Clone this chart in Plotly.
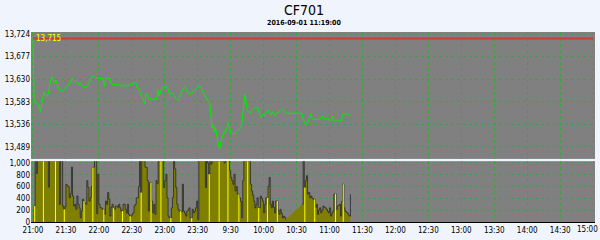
import plotly.graph_objects as go
from plotly.subplots import make_subplots

symbol = "CF701"
timestamp = "2016-09-01 11:19:00"
ref_price = 13715

tick_minutes = [0, 30, 60, 90, 120, 150, 180, 210, 240, 270, 300, 330, 360, 390, 420, 450, 480, 510]
tick_labels = ["21:00", "21:30", "22:00", "22:30", "23:00", "23:30", "9:30", "10:00", "10:30",
               "11:00", "11:30", "12:00", "12:30", "13:00", "13:30", "14:00", "14:30", "15:00"]

price_ticks = [13489, 13536, 13583, 13630, 13677, 13724]
volume_ticks = [0, 200, 400, 600, 800, 1000]

price = [
    13715, 13582, 13583, 13580, 13579, 13577, 13570, 13561, 13580, 13590,
    13603, 13598, 13597, 13594, 13600, 13615, 13625, 13635, 13630, 13624,
    13622, 13628, 13618, 13612, 13608, 13606, 13608, 13604, 13607, 13608,
    13615, 13617, 13618, 13619, 13621, 13630, 13632, 13626, 13625, 13626,
    13622, 13620, 13618, 13623, 13618, 13614, 13617, 13612, 13610, 13615,
    13620, 13622, 13627, 13632, 13636, 13636, 13635, 13634, 13632, 13632,
    13632, 13632, 13632, 13632, 13631, 13615, 13632, 13632, 13632, 13632,
    13632, 13622, 13619, 13619, 13619, 13620, 13619, 13619, 13619, 13616,
    13616, 13617, 13618, 13615, 13614, 13618, 13616, 13616, 13619, 13618,
    13618, 13623, 13622, 13621, 13621, 13612, 13611, 13605, 13598, 13593,
    13590, 13584, 13579, 13600, 13596, 13592, 13587, 13589, 13590, 13586,
    13589, 13589, 13587, 13594, 13607, 13595, 13605, 13610, 13614, 13613,
    13611, 13617, 13614, 13610, 13600, 13598, 13601, 13600, 13597, 13595,
    13590, 13587, 13585, 13589, 13596, 13601, 13609, 13612, 13615, 13610,
    13606, 13601, 13598, 13600, 13601, 13601, 13603, 13604, 13608, 13611,
    13615, 13615, 13615, 13613, 13604, 13601, 13597, 13596, 13590, 13584,
    13582, 13580, 13560, 13528, 13535, 13520, 13530, 13512, 13505, 13490,
    13484, 13500, 13508, 13515, 13520, 13517, 13525, 13535, 13539, 13530,
    13518, 13517, 13516, 13516, 13517, 13519, 13521, 13523, 13526, 13528,
    13535, 13560, 13590, 13598, 13582, 13566, 13563, 13561, 13559, 13565,
    13568, 13570, 13570, 13570, 13570, 13570, 13560, 13553, 13550, 13556,
    13556, 13553, 13560, 13563, 13566, 13560, 13559, 13555, 13562, 13556,
    13553, 13558, 13559, 13561, 13562, 13564, 13566, 13568, 13566, 13563,
    13559, 13559, 13559, 13559, 13559, 13559, 13559, 13559, 13559, 13559,
    13559, 13559, 13559, 13559, 13559, 13559, 13546, 13540, 13537, 13535,
    13538, 13545, 13553, 13559, 13550, 13546, 13546, 13546, 13546, 13546,
    13546, 13546, 13549, 13551, 13553, 13549, 13546, 13546, 13549, 13548,
    13542, 13545, 13548, 13553, 13542, 13544, 13546, 13543, 13545, 13546,
    13542, 13545, 13556, 13559, 13557, 13556, 13559, 13555, 13553, 13556,
]

volume = [
    0, 270, 1400, 820, 1300, 1200, 1250, 1100, 1350, 1200,
    1300, 1150, 1200, 1250, 590, 1100, 1200, 1300, 1150, 1250,
    1400, 1200, 1100, 1150, 300, 1100, 1200, 270, 215, 260,
    640, 610, 600, 410, 480, 930, 440, 270, 300, 215,
    440, 300, 240, 70, 185, 385, 355, 320, 300, 700,
    585, 355, 410, 600, 925, 930, 1100, 1200, 140, 810,
    300, 240, 240, 215, 215, 130, 355, 300, 500, 385,
    100, 250, 300, 240, 215, 270, 270, 250, 300, 240,
    185, 185, 300, 300, 215, 150, 300, 130, 100, 100,
    130, 155, 270, 300, 410, 410, 600, 1200, 500, 1100,
    1250, 1150, 930, 925, 700, 185, 670, 670, 355, 155,
    300, 130, 700, 650, 1200, 1300, 1150, 1250, 1100, 585,
    700, 810, 410, 100, 70, 70, 240, 410, 1100, 900,
    585, 300, 215, 180, 185, 170, 640, 185, 150, 100,
    185, 200, 240, 70, 70, 215, 155, 180, 240, 355,
    40, 1300, 1200, 1250, 1300, 1200, 1150, 585, 1100, 1000,
    810, 1200, 980, 1200, 1300, 1250, 1200, 1150, 1300, 1200,
    1250, 1200, 1100, 1300, 1000, 1200, 1050, 1200, 1100, 870,
    755, 700, 640, 810, 525, 600, 470, 470, 410, 350,
    70, 700, 1200, 1250, 1300, 1200, 1150, 1250, 640, 525,
    450, 355, 240, 300, 410, 240, 240, 440, 400, 355,
    155, 300, 410, 410, 600, 755, 300, 240, 355, 250,
    155, 355, 355, 200, 130, 215, 150, 70, 100, 80,
    40,
    None, None, None, None, None, None, None, None, None, None, None, None, None, None,
    300, 1100, 585, 700, 785, 470, 500, 410, 440, 400,
    385, 385, 250, 300, 130, 200, 240, 155, 200, 270,
    250, 240, 215, 180, 155, 240, 100, 150, 185, 470,
    480, 215, 270, 280, 300, 100, 350, 640, 240, 185,
    170, 155, 120, 100, 470,
]

highlight_minutes = [1, 9, 20, 28, 46, 54, 64, 73, 81, 88, 98, 107, 116, 125, 134, 144,
                     160, 169, 177, 187, 195, 205, 213, 222, 247, 256, 275, 282]

minutes = list(range(len(price)))

FONT = "Liberation Sans Narrow, DejaVu Sans Condensed, Arial Narrow, sans-serif"
BG = "#F0F4FC"
PLOT_BG = "#808080"
GRID = "#3AA53A"

fig = make_subplots(rows=2, cols=1, shared_xaxes=True, vertical_spacing=0.012,
                    row_heights=[0.668, 0.32])

fig.add_trace(go.Scatter(x=[minutes[0], tick_minutes[-1]], y=[ref_price, ref_price], mode="lines",
                         line=dict(color="#C83C3C", width=2), hoverinfo="skip"), row=1, col=1)
fig.add_trace(go.Scatter(x=minutes, y=price, mode="lines",
                         line=dict(color="#00F000", width=1)), row=1, col=1)

fig.add_trace(go.Scatter(x=minutes, y=volume, mode="lines", line_shape="hv",
                         fill="tozeroy", fillcolor="#808000",
                         line=dict(color="#262636", width=0.8), connectgaps=False),
              row=2, col=1)

hx, hy = [], []
for m in highlight_minutes:
    hx += [m + 0.5, m + 0.5, None]
    hy += [0, volume[m], None]
fig.add_trace(go.Scatter(x=hx, y=hy, mode="lines", line=dict(color="#FFFF00", width=1),
                         hoverinfo="skip"), row=2, col=1)

axis_font = dict(family=FONT, size=8, color="#000000")
shown_labels = tick_labels[:-1] + [""]
common_x = dict(range=[-1.8, 511.7], tickvals=tick_minutes, ticktext=shown_labels,
                showgrid=True, gridcolor=GRID, griddash="dot", gridwidth=1,
                zeroline=False, ticks="", tickfont=axis_font)
fig.update_xaxes(**common_x)
fig.update_xaxes(showticklabels=False, row=1, col=1)
fig.update_xaxes(showline=True, linecolor="#000000", linewidth=1, row=2, col=1)

fig.update_yaxes(range=[13463.5, 13728.5], tickvals=price_ticks,
                 ticktext=[f"{v:,}" for v in price_ticks],
                 showgrid=True, gridcolor=GRID, griddash="dot", zeroline=False,
                 ticks="", tickfont=axis_font, row=1, col=1)
fig.update_yaxes(range=[0, 1030], tickvals=volume_ticks,
                 ticktext=[f"{v:,}" for v in volume_ticks],
                 showgrid=True, gridcolor=GRID, griddash="dot", zeroline=False,
                 ticks="", tickfont=axis_font, row=2, col=1)

# last time label pushed against the right edge as in the reference
fig.add_annotation(x=1, y=0, xref="paper", yref="paper", text=tick_labels[-1],
                   showarrow=False, xanchor="right", yanchor="top", xshift=5, yshift=-1,
                   font=axis_font)
fig.add_annotation(x=minutes[0], y=ref_price, xref="x", yref="y", text=f"{ref_price:,}",
                   showarrow=False, xanchor="left", yanchor="middle", xshift=1,
                   font=dict(family=FONT, size=8, color="#FFFF00"))
fig.add_annotation(x=0.484, y=1.115, xref="paper", yref="paper", text=symbol,
                   showarrow=False, xanchor="center", yanchor="middle",
                   font=dict(family=FONT, size=14, color="#000000"))
fig.add_annotation(x=0.484, y=1.047, xref="paper", yref="paper", text=f"<b>{timestamp}</b>",
                   showarrow=False, xanchor="center", yanchor="middle",
                   font=dict(family=FONT, size=7, color="#000000"))

fig.update_layout(width=600, height=240, margin=dict(l=25, r=5, t=32, b=16),
                  paper_bgcolor=BG, plot_bgcolor=PLOT_BG, showlegend=False)

fig.write_html("out.html")
